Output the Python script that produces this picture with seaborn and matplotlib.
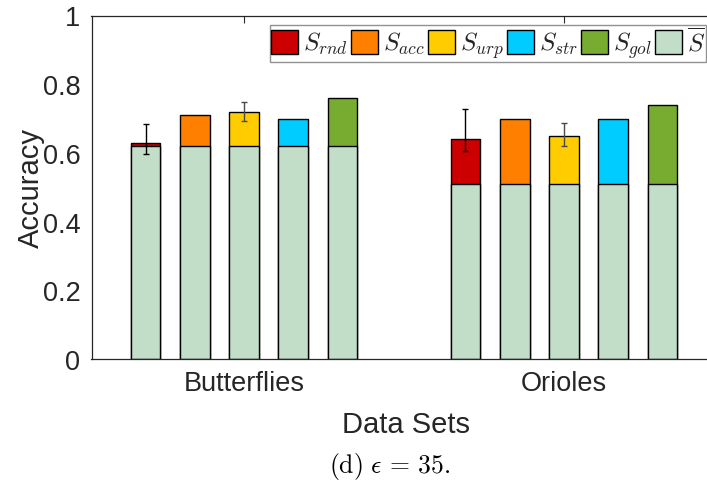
import matplotlib
matplotlib.use("Agg")
import matplotlib.pyplot as plt
from matplotlib.patches import Patch
import numpy as np
import pandas as pd
import seaborn as sns

# Data sets on the x axis and the strategies compared within each group
datasets = ["Butterflies", "Orioles"]
methods = ["rnd", "acc", "urp", "str", "gol"]
legend_labels = [r"$S_{rnd}$", r"$S_{acc}$", r"$S_{urp}$", r"$S_{str}$", r"$S_{gol}$", r"$\overline{S}$"]

# Accuracy of the baseline (S-bar) per data set
baseline = [0.62, 0.51]

# Accuracy reached by each strategy (top of each stacked bar)
acc_rnd = [0.63, 0.64]
acc_acc = [0.71, 0.70]
acc_urp = [0.72, 0.65]
acc_str = [0.70, 0.70]
acc_gol = [0.76, 0.74]

# Error ranges (lower, upper) for the randomised strategies
rnd_err_lo = [0.597, 0.606]
rnd_err_hi = [0.684, 0.728]
urp_err_lo = [0.693, 0.620]
urp_err_hi = [0.748, 0.687]

colors = ["#CC0000", "#FF8000", "#FFCC00", "#00CCFF", "#77AC30"]
base_color = "#C3DEC8"

totals = [acc_rnd, acc_acc, acc_urp, acc_str, acc_gol]
rows = []
for m, vals in zip(methods, totals):
    for d, v, b in zip(datasets, vals, baseline):
        rows.append({"dataset": d, "method": m, "total": v, "base": b})
df = pd.DataFrame(rows)

sns.set_theme(style="white")
plt.rcParams["font.family"] = ["Liberation Sans", "DejaVu Sans"]
plt.rcParams["mathtext.fontset"] = "cm"

W, H = 707, 485
fig = plt.figure(figsize=(W / 100, H / 100), dpi=100)
ax_left, ax_right, ax_top, ax_bottom = 91.5, 720, 16.5, 360
ax = fig.add_axes([ax_left / W, 1 - ax_bottom / H, (ax_right - ax_left) / W, (ax_bottom - ax_top) / H])

bar_kw = dict(x="dataset", y="total", hue="method", order=datasets, hue_order=methods,
              width=0.77, gap=0.396, edgecolor="black", linewidth=1.0,
              errorbar=None, legend=False, ax=ax, saturation=1)

# Full-height coloured bars, then the baseline part drawn over them
sns.barplot(data=df, palette=colors, **bar_kw)
sns.barplot(data=df.assign(total=df["base"]), palette=[base_color] * 5, **bar_kw)

# Error bars on the randomised strategies
for idx, lo, hi, ecol in [(0, rnd_err_lo, rnd_err_hi, "black"), (2, urp_err_lo, urp_err_hi, "#4a4a4a")]:
    cont = ax.containers[idx]
    xs = [b.get_x() + b.get_width() / 2 for b in cont]
    ys = np.array(totals[idx])
    yerr = np.vstack([ys - np.array(lo), np.array(hi) - ys])
    ax.errorbar(xs, ys, yerr=yerr, fmt="none", ecolor=ecol, elinewidth=1.0,
                capsize=2.5, capthick=1.0, zorder=5)

ax.set_xlim(-0.477, 1.488)
ax.set_ylim(0, 1)
ax.set_yticks([0, 0.2, 0.4, 0.6, 0.8, 1.0])
ax.set_yticklabels(["0", "0.2", "0.4", "0.6", "0.8", "1"])
ax.set_xticks([0, 1])
ax.set_xticklabels(datasets)
ax.tick_params(axis="both", direction="in", length=5, width=0.8, color="#262626",
               labelsize=19.5, labelcolor="#262626", top=True, right=True, pad=8)
for s in ax.spines.values():
    s.set_visible(True)
    s.set_color("#262626")
    s.set_linewidth(0.9)
ax.set_xlabel("Data Sets", fontsize=21, color="#262626", labelpad=10)
ax.set_ylabel("Accuracy", fontsize=21, color="#262626", labelpad=-2)

handles = [Patch(facecolor=c, edgecolor="black", linewidth=1.0) for c in colors + [base_color]]
leg = fig.legend(handles, legend_labels, loc="upper left", bbox_to_anchor=(270 / W, 1 - 26 / H),
                 ncol=6, fontsize=18, frameon=True, fancybox=False, handlelength=1.08,
                 handleheight=1.08, handletextpad=0.2, columnspacing=0.12, borderpad=0.05,
                 borderaxespad=0)
leg.get_frame().set_edgecolor("#777777")
leg.get_frame().set_linewidth(1.0)

fig.text(390 / W, 1 - 473 / H, r"$\mathrm{(d)}\ \epsilon\,=\,35.$", ha="center", va="baseline",
         fontsize=18.5, color="black")

fig.savefig("out.png", dpi=100)
